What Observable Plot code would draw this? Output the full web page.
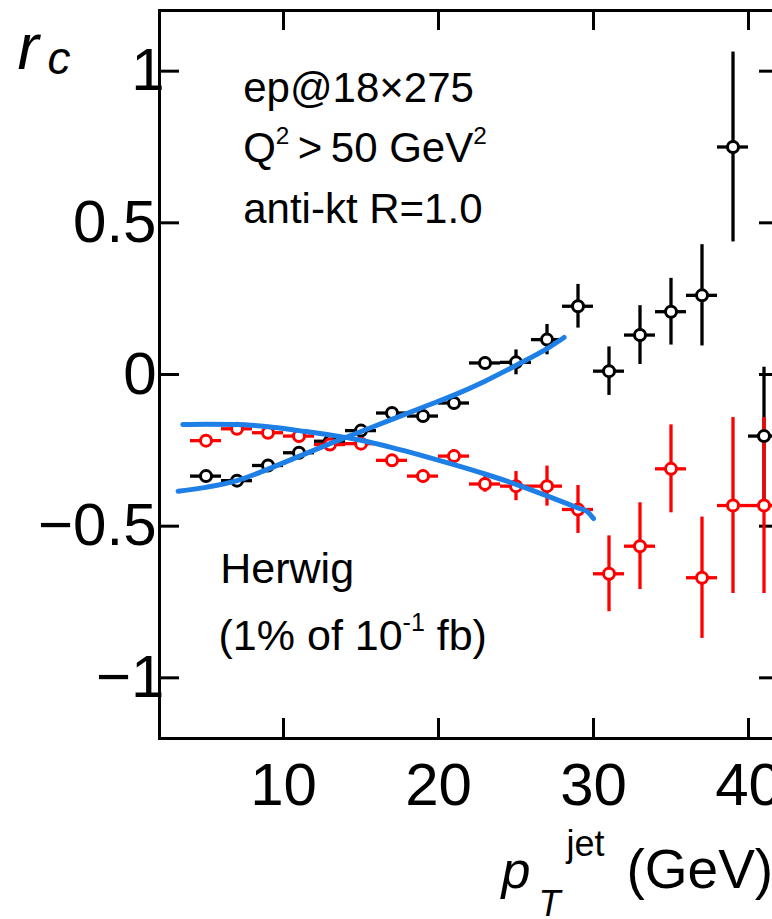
<!DOCTYPE html>
<html><head><meta charset="utf-8">
<script src="https://cdn.jsdelivr.net/npm/d3@7"></script>
<script src="https://cdn.jsdelivr.net/npm/@observablehq/plot@0.6"></script>
<style>
html,body{margin:0;padding:0;background:#fff;overflow:hidden;}
#chart{width:772px;height:919px;overflow:hidden;position:relative;}
</style></head><body><div id="chart"></div>
<script>
// ---- data ----
const ptBins   = [5,7,9,11,13,15,17,19,21,23,25,27,29,31,33,35,37,39,41];
const binHalf  = 1;
const blackVals = [-0.335,-0.350,-0.300,-0.258,-0.220,-0.185,-0.127,-0.137,-0.094,0.038,0.040,0.115,0.225,0.011,0.130,0.207,0.261,0.750,-0.203];
const blackErr  = [0.010,0.010,0.012,0.013,0.015,0.017,0.018,0.020,0.022,0.020,0.041,0.050,0.072,0.080,0.097,0.110,0.167,0.313,0.227];
const redVals   = [-0.218,-0.179,-0.192,-0.203,-0.231,-0.228,-0.283,-0.335,-0.269,-0.361,-0.368,-0.368,-0.445,-0.657,-0.566,-0.311,-0.670,-0.432,-0.432];
const redErr    = [0.008,0.018,0.010,0.012,0.013,0.015,0.016,0.018,0.020,0.027,0.048,0.066,0.079,0.125,0.143,0.145,0.200,0.290,0.290];
const blackFitX = [3.2,5,7,9,11,13,15,17,19,21,23,25,27,28.1];
const blackFitY = [-0.385,-0.372,-0.350,-0.312,-0.270,-0.228,-0.188,-0.148,-0.108,-0.068,-0.022,0.030,0.085,0.122];
const redFitX   = [3.5,5,7,9,11,13,15,17,19,21,23,25,27,29,29.6,30.0];
const redFitY   = [-0.165,-0.164,-0.165,-0.172,-0.185,-0.199,-0.217,-0.241,-0.268,-0.297,-0.328,-0.362,-0.400,-0.440,-0.452,-0.475];
const xTicks = [10,20,30,40];
const yTicksOnes = [-1, 1];
const yTicksOther = [-0.5, 0, 0.5];
const xDomain = [2, 42];
const yDomain = [-1.2, 1.2];
const annTexts = ["ep@18×275", "Q^{2}\u2009>\u200950 GeV^{2}", "anti-kt R=1.0"];
const annX = [7.4, 7.4, 7.4];
const annY = [0.90, 0.70, 0.50];
const genTexts = ["Herwig", "(1% of 10^{-1} fb)"];
const genX = [5.92, 5.81];
const genY = [-0.687, -0.907];

// ---- build tables ----
const mk = (vals, errs) => ptBins.map((pt, i) => ({pt, v: vals[i], e: errs[i]}));
const blackData = mk(blackVals, blackErr);
const redData = mk(redVals, redErr);
const blackFit = blackFitX.map((x, i) => ({x, y: blackFitY[i]}));
const redFit = redFitX.map((x, i) => ({x, y: redFitY[i]}));
const ann = annTexts.map((t, i) => ({t, x: annX[i], y: annY[i]}));
const gen = genTexts.map((t, i) => ({t, x: genX[i], y: genY[i]}));
const yTicks = [...yTicksOnes, ...yTicksOther];

const W = 772, H = 919;
const mL = 159, mR = -7, mT = 10, mB = 181;
const tickX = 20 / ((W - mR - mL) / (xDomain[1] - xDomain[0]));
const tickY = 20 / ((H - mB - mT) / (yDomain[1] - yDomain[0]));
const blue = "#1e80e6";
const fmtY = d => d === 0 ? "0" : (d < 0 ? "\u2212" : "") + Math.abs(d);

function errMarks(data, color) {
  return [
    Plot.ruleX(data, {x: "pt", y1: d => d.v - d.e, y2: d => d.v + d.e, stroke: color, strokeWidth: 3.3}),
    Plot.ruleY(data, {y: "v", x1: d => d.pt - binHalf, x2: d => d.pt + binHalf, stroke: color, strokeWidth: 3.3})
  ];
}
function dotMarks(data, color) {
  return Plot.dot(data, {x: "pt", y: "v", r: 5.5, stroke: color, strokeWidth: 3, fill: "white"});
}

const chart = Plot.plot({
  width: W, height: H,
  marginLeft: mL, marginRight: mR, marginTop: mT, marginBottom: mB,
  style: {fontFamily: "'Liberation Sans', Arial, Helvetica, sans-serif", background: "white", color: "black"},
  x: {domain: xDomain},
  y: {domain: yDomain},
  marks: [
    // ticks (inward, all four sides)
    Plot.ruleX(xTicks, {x: d => d, y1: yDomain[0], y2: yDomain[0] + tickY, stroke: "black", strokeWidth: 3}),
    Plot.ruleX(xTicks, {x: d => d, y1: yDomain[1] - tickY, y2: yDomain[1], stroke: "black", strokeWidth: 3}),
    Plot.ruleY(yTicks, {y: d => d, x1: xDomain[0], x2: xDomain[0] + tickX, stroke: "black", strokeWidth: 3}),
    Plot.ruleY(yTicks, {y: d => d, x1: xDomain[1] - tickX, x2: xDomain[1], stroke: "black", strokeWidth: 3}),
    Plot.axisX({ticks: xTicks, tickSize: 0, tickPadding: 24, fontSize: 60, tickFormat: d => String(d), label: null}),
    Plot.axisY({ticks: yTicksOnes, tickSize: 0, tickPadding: -5, fontSize: 60, tickFormat: fmtY, label: null}),
    Plot.axisY({ticks: yTicksOther, tickSize: 0, tickPadding: 3, fontSize: 60, tickFormat: fmtY, label: null}),
    Plot.frame({stroke: "black", strokeWidth: 3}),
    // data
    ...errMarks(blackData, "black"),
    ...errMarks(redData, "#ff0000"),
    dotMarks(blackData, "black"),
    dotMarks(redData, "#ff0000"),
    Plot.line(blackFit, {x: "x", y: "y", stroke: blue, strokeWidth: 5, curve: "monotone-x", strokeLinecap: "round"}),
    Plot.line(redFit, {x: "x", y: "y", stroke: blue, strokeWidth: 5, curve: "monotone-x", strokeLinecap: "round"}),
    // annotations
    Plot.text(ann, {x: "x", y: "y", text: "t", textAnchor: "start", lineAnchor: "bottom", fontSize: 42, fill: "black"}),
    Plot.text(gen, {x: "x", y: "y", text: "t", textAnchor: "start", lineAnchor: "bottom", fontSize: 43, fill: "black"}),
    // axis titles
    Plot.text(["r"], {frameAnchor: "top-left", dx: -142, dy: 58, textAnchor: "start", lineAnchor: "bottom", fontSize: 64, fontStyle: "italic", fill: "black"}),
    Plot.text(["c"], {frameAnchor: "top-left", dx: -112, dy: 63, textAnchor: "start", lineAnchor: "bottom", fontSize: 46, fontStyle: "italic", fill: "black"}),
    Plot.text(["p"], {frameAnchor: "bottom-left", dx: 342, dy: 149, textAnchor: "start", lineAnchor: "bottom", fontSize: 52, fontStyle: "italic", fill: "black"}),
    Plot.text(["T"], {frameAnchor: "bottom-left", dx: 379, dy: 177, textAnchor: "start", lineAnchor: "bottom", fontSize: 36, fontStyle: "italic", fill: "black"}),
    Plot.text(["jet"], {frameAnchor: "bottom-left", dx: 407, dy: 117, textAnchor: "start", lineAnchor: "bottom", fontSize: 36, fill: "black"}),
    Plot.text(["(GeV)"], {frameAnchor: "bottom-left", dx: 467, dy: 149, textAnchor: "start", lineAnchor: "bottom", fontSize: 55, fill: "black"})
  ]
});
document.getElementById("chart").appendChild(chart);

// rich text: ^{..} superscript, _{..} subscript
function richify(root) {
  root.querySelectorAll("text").forEach(el => {
    const s = el.textContent;
    if (!/[\^_]\{/.test(s)) return;
    const base = parseFloat(getComputedStyle(el).fontSize);
    while (el.firstChild) el.removeChild(el.firstChild);
    const parts = s.split(/(\^\{[^}]*\}|_\{[^}]*\})/).filter(p => p.length);
    let cur = 0;
    for (const p of parts) {
      let txt = p, size = base, shift = 0;
      if (p.startsWith("^{")) { txt = p.slice(2, -1); size = base * 0.58; shift = -base * 0.44; }
      else if (p.startsWith("_{")) { txt = p.slice(2, -1); size = base * 0.6; shift = base * 0.3; }
      const ts = document.createElementNS("http://www.w3.org/2000/svg", "tspan");
      ts.setAttribute("font-size", size);
      ts.setAttribute("dy", shift - cur);
      ts.textContent = txt;
      el.appendChild(ts);
      cur = shift;
    }
  });
}
richify(chart);
</script></body></html>
